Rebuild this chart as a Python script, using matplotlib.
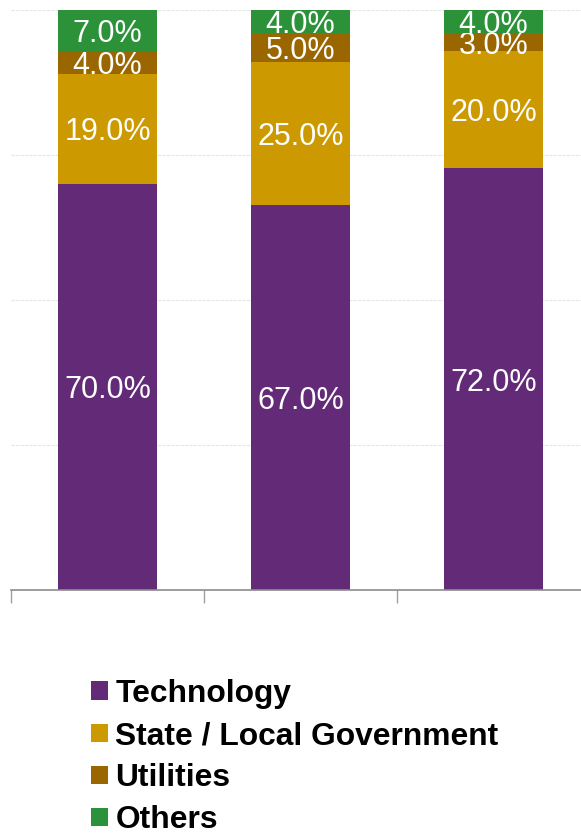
import numpy as np
import matplotlib.pyplot as plt
from matplotlib.patches import Patch

plt.rcParams["font.family"] = ["Liberation Sans", "DejaVu Sans"]

# 三组堆叠柱的数据（百分比）
groups = ["A", "B", "C"]
series_names = ["Technology", "State / Local Government", "Utilities", "Others"]
technology = [70.0, 67.0, 72.0]
state_local = [19.0, 25.0, 20.0]
utilities = [4.0, 5.0, 3.0]
others = [7.0, 4.0, 4.0]
series_colors = ["#632a78", "#cc9a00", "#996600", "#2b923a"]

all_series = [technology, state_local, utilities, others]
# 每根柱按合计归一化到100%
totals = np.sum(np.array(all_series), axis=0)

fig = plt.figure(figsize=(5.81, 8.33), dpi=100)
# 坐标区右侧略超出画布
ax = fig.add_axes([11 / 581, 243 / 833, 1.0, 580 / 833])

x = np.arange(len(groups))
width = 0.513
bottom = np.zeros(len(groups))
for i, (vals, color) in enumerate(zip(all_series, series_colors)):
    vals = np.array(vals)
    heights = vals / totals * 100
    ax.bar(x, heights, width, bottom=bottom, color=color, zorder=2 * i + 2)
    for xi, b, h, v in zip(x, bottom, heights, vals):
        ax.text(xi, b + h / 2, f"{v:.1f}%", ha="center", va="center_baseline",
                color="white", fontsize=22, zorder=2 * i + 3)
    bottom += heights

ax.set_ylim(0, 100)
ax.set_xlim(-0.5, -0.5 + 1.0 * 581 / 193)
ax.set_yticks([25, 50, 75, 100])
ax.yaxis.grid(True, color="#e6e6e6", linewidth=0.8, linestyle=(0, (3, 1)), zorder=0)
ax.set_axisbelow(True)
ax.tick_params(axis="y", left=False, labelleft=False)
ax.set_xticks([-0.5, 0.5, 1.5, 2.5])
ax.tick_params(axis="x", length=9, color="#a0a0a0", labelbottom=False, width=1)
for side in ["top", "right", "left"]:
    ax.spines[side].set_visible(False)
ax.spines["bottom"].set_color("#8c8c8c")
ax.spines["bottom"].set_linewidth(1.2)

# 图例放在图表下方
handles = [Patch(facecolor=c, edgecolor="none") for c in series_colors]
leg = fig.legend(handles, series_names, loc="upper left", bbox_to_anchor=(91 / 581, 1 - 679 / 833),
                 frameon=False, prop={"weight": "bold", "size": 22.9},
                 handlelength=0.52, handleheight=0.52, handletextpad=0.25,
                 labelspacing=0.38, borderpad=0, borderaxespad=0)

fig.savefig("out.png", dpi=100)
